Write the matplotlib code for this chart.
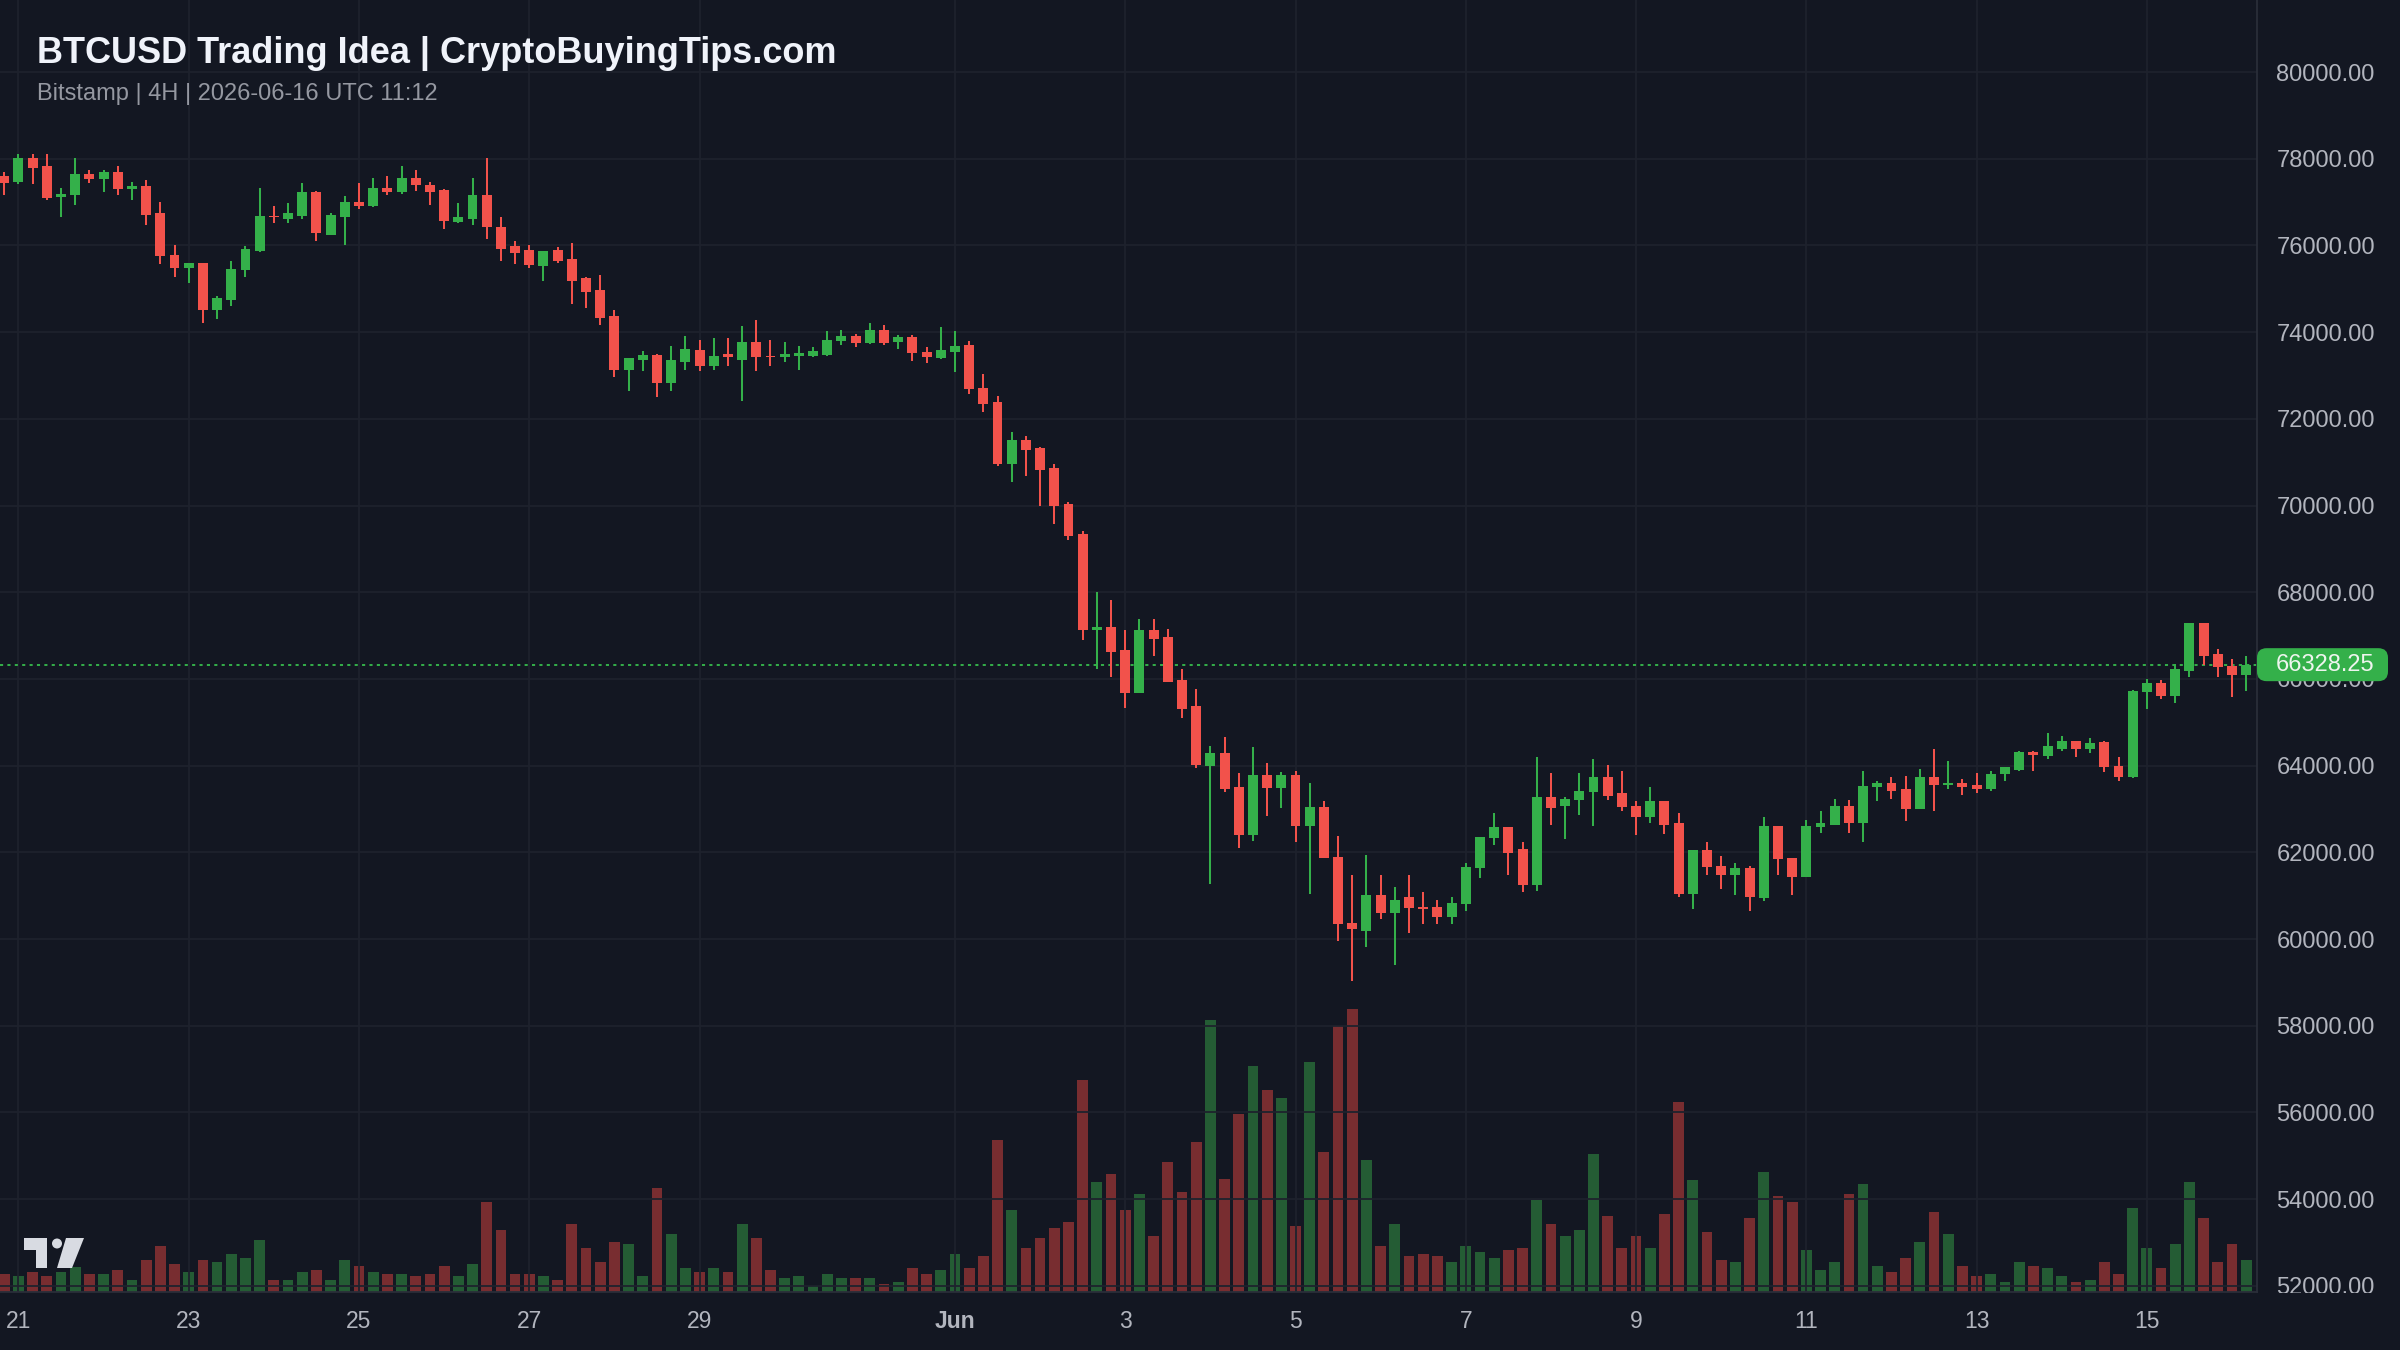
import numpy as np
import pandas as pd
import matplotlib
matplotlib.use("Agg")
import matplotlib.pyplot as plt
import matplotlib.transforms as mtransforms
from matplotlib.patches import Rectangle, Polygon, Circle, FancyBboxPatch
from matplotlib.ticker import FormatStrFormatter

# 4H candles, Bitstamp BTCUSD, first candle 2026-05-20 20:00 UTC
start = pd.Timestamp("2026-05-20 20:00")

open_ = [77597, 77468, 78015, 77833, 77118, 77156, 77650, 77521, 77703, 77293,
         77377, 76738, 75781, 75469, 75598, 74519, 74747, 75431, 75872, 76685,
         76609, 76685, 77240, 76244, 76662, 77012, 76898, 77331, 77240, 77559,
         77384, 77285, 76533, 76609, 77156, 76419, 75978, 75887, 75522, 75887,
         75689, 75241, 74960, 74367, 73136, 73364, 73470, 72824, 73318, 73592,
         73227, 73493, 73364, 73775, 73455, 73417, 73455, 73440, 73475, 73799,
         73900, 73738, 74054, 73761, 73877, 73552, 73413, 73552, 73699, 72719,
         72394, 70959, 71507, 71329, 70866, 70032, 69345, 67122, 67199, 66659,
         65678, 67122, 66967, 65964, 65370, 63992, 64301, 63506, 62402, 63792,
         63483, 63792, 62603, 63043, 61885, 60364, 60187, 61013, 60611, 60959,
         60727, 60727, 60518, 60804, 61630, 62325, 62580, 62078, 61244, 63274,
         63066, 63197, 63390, 63738, 63360, 63074, 62804, 63174, 62665, 61044,
         62055, 61684, 61476, 61646, 60951, 62611, 61877, 61430, 62588, 62634,
         63074, 62665, 63514, 63591, 63460, 62997, 63730, 63553, 63591, 63553,
         63460, 63807, 63901, 64309, 64232, 64386, 64563, 64386, 64540, 64001,
         63732, 65693, 65901, 65616, 66177, 67285, 66577, 66308, 66100]
high = [77688, 78114, 78114, 78114, 77331, 78015, 77734, 77734, 77833, 77468,
        77513, 77004, 76001, 75600, 75600, 74823, 75644, 75978, 77331, 76913,
        76974, 77430, 77260, 76738, 77141, 77430, 77559, 77612, 77833, 77734,
        77468, 77290, 76974, 77559, 78015, 76647, 76100, 76001, 75880, 75963,
        76054, 75279, 75317, 74504, 73410, 73554, 73493, 73683, 73911, 73820,
        73873, 73873, 74139, 74276, 73820, 73775, 73683, 73645, 74016, 74054,
        73954, 74209, 74155, 73931, 73931, 73645, 74108, 74031, 73784, 73043,
        72526, 71700, 71599, 71340, 70959, 70079, 69422, 67994, 67817, 67122,
        67392, 67392, 67160, 66234, 65771, 64456, 64664, 63838, 64432, 64070,
        63853, 63869, 63606, 63174, 62387, 61476, 61939, 61476, 61190, 61476,
        61090, 60905, 60959, 61754, 62360, 62912, 62590, 62248, 64201, 63838,
        63274, 63838, 64162, 64008, 63869, 63174, 63499, 63180, 62896, 62060,
        62248, 61916, 61746, 61684, 62804, 62615, 61880, 62742, 62943, 63228,
        63205, 63869, 63638, 63730, 63769, 63923, 64386, 64101, 63692, 63823,
        63869, 63965, 64347, 64347, 64747, 64693, 64570, 64640, 64578, 64193,
        65747, 66001, 65977, 66347, 67290, 67290, 66693, 66462, 66539]
low = [77156, 77422, 77422, 77057, 76647, 76928, 77430, 77240, 77156, 77057,
       76465, 75560, 75279, 75142, 74200, 74291, 74595, 75279, 75849, 76510,
       76510, 76609, 76100, 76230, 76016, 76837, 76875, 77156, 77194, 77255,
       76928, 76381, 76510, 76472, 76153, 75644, 75560, 75469, 75188, 75598,
       74648, 74557, 74154, 72961, 72634, 73098, 72505, 72634, 73136, 73098,
       73136, 73227, 72406, 73098, 73227, 73318, 73136, 73417, 73452, 73699,
       73645, 73735, 73699, 73606, 73336, 73290, 73375, 73089, 72580, 72163,
       70904, 70542, 70688, 69994, 69569, 69206, 66890, 66234, 66041, 65323,
       65670, 66527, 65920, 65100, 63950, 61267, 63390, 62093, 62271, 62834,
       63020, 62232, 61036, 61860, 59955, 59029, 59824, 60457, 59391, 60148,
       60341, 60341, 60341, 60650, 61399, 62170, 61476, 61074, 61113, 62634,
       62309, 62865, 62603, 63197, 62943, 62402, 62665, 62433, 60966, 60681,
       61476, 61144, 61013, 60642, 60874, 61476, 61013, 61425, 62456, 62630,
       62456, 62248, 63174, 63228, 62711, 62990, 62943, 63460, 63329, 63360,
       63406, 63653, 63870, 63870, 64155, 64347, 64209, 64286, 63847, 63655,
       63725, 65308, 65539, 65439, 66039, 66331, 66054, 65578, 65731]
close = [77430, 78015, 77787, 77088, 77194, 77650, 77521, 77696, 77293, 77377,
         76700, 75750, 75469, 75590, 74519, 74785, 75454, 75925, 76685, 76647,
         76738, 77240, 76283, 76700, 77012, 76913, 77331, 77240, 77559, 77384,
         77240, 76571, 76647, 77156, 76419, 75925, 75827, 75545, 75872, 75636,
         75188, 74922, 74329, 73136, 73402, 73478, 72824, 73364, 73607, 73227,
         73455, 73417, 73775, 73417, 73417, 73493, 73508, 73554, 73823, 73915,
         73738, 74054, 73738, 73877, 73529, 73429, 73591, 73684, 72680, 72348,
         70959, 71507, 71291, 70827, 69994, 69299, 67122, 67199, 66620, 65678,
         67122, 66929, 65925, 65307, 64008, 64301, 63467, 62402, 63792, 63483,
         63792, 62603, 63043, 61862, 60341, 60241, 61013, 60611, 60905, 60704,
         60700, 60518, 60827, 61653, 62348, 62580, 61985, 61244, 63274, 63020,
         63236, 63421, 63738, 63290, 63035, 62804, 63174, 62634, 61044, 62055,
         61661, 61476, 61646, 60966, 62611, 61839, 61430, 62611, 62665, 63074,
         62665, 63537, 63591, 63406, 62997, 63730, 63560, 63591, 63514, 63460,
         63807, 63962, 64309, 64255, 64463, 64563, 64386, 64516, 63978, 63732,
         65716, 65901, 65616, 66231, 67285, 66539, 66285, 66100, 66328.25]
volume = [53, 47, 59, 47, 59, 75, 53, 53, 65, 35, 95, 137, 83, 59, 95, 89, 113, 101,
          155, 35, 35, 59, 65, 35, 95, 77, 59, 53, 53, 47, 53, 77, 47, 83, 269, 185,
          53, 53, 47, 35, 203, 131, 89, 149, 143, 47, 311, 173, 71, 59, 71, 59, 203,
          161, 65, 41, 47, 17, 53, 41, 41, 41, 23, 29, 71, 53, 65, 113, 71, 107, 455,
          245, 131, 161, 191, 209, 635, 329, 353, 245, 293, 167, 389, 299, 449, 815,
          340, 533, 677, 605, 582, 197, 689, 419, 797, 850, 395, 137, 203, 107, 113,
          107, 89, 137, 119, 101, 125, 131, 275, 203, 167, 185, 413, 227, 131, 167,
          131, 233, 569, 335, 179, 95, 89, 221, 359, 287, 269, 125, 65, 89, 293, 323,
          77, 59, 101, 149, 239, 173, 77, 47, 53, 29, 89, 77, 71, 47, 29, 35, 89, 53,
          251, 131, 71, 143, 329, 221, 89, 143, 95]

tick_days = ["2026-05-21", "2026-05-23", "2026-05-25", "2026-05-27", "2026-05-29",
             "2026-06-01", "2026-06-03", "2026-06-05", "2026-06-07", "2026-06-09",
             "2026-06-11", "2026-06-13", "2026-06-15"]
tick_text = ["21", "23", "25", "27", "29", "Jun", "3", "5", "7", "9", "11", "13", "15"]
price_ticks = np.arange(52000, 80001, 2000)

bg = "#131722"
up = "#34b04a"
down = "#f2524b"
vol_up = "#245c34"
vol_down = "#782d30"
grid_c = "#1e222d"
text_c = "#b2b5be"

o = np.array(open_, float)
h = np.array(high, float)
l = np.array(low, float)
c = np.array(close, float)
v = np.array(volume, float)
x = np.arange(len(c))
rising = c >= o
cols = np.where(rising, up, down)
vcols = np.where(rising, vol_up, vol_down)

W, H = 2400, 1350
fig = plt.figure(figsize=(24, 13.5), dpi=100, facecolor=bg)
ax = fig.add_axes([0, 58 / H, 2257 / W, 1292 / H])
vax = ax.twinx()
ax.set_zorder(2)
vax.set_zorder(1)
ax.patch.set_visible(False)
vax.patch.set_facecolor(bg)

# volume (overlay, bottom of pane)
vax.bar(x, v, width=0.76, color=vcols, linewidth=0)
vax.set_ylim(0, 3876)
vax.yaxis.set_visible(False)
for s in vax.spines.values():
    s.set_visible(False)

# candles
ax.vlines(x, l, h, colors=cols, linewidth=1.45, zorder=3)
body = np.maximum(np.abs(c - o), 28)
ax.bar(x, body, bottom=np.minimum(o, c), width=0.7, color=cols, linewidth=0, zorder=4)

ax.set_xlim(-0.3, 158.76)
ax.set_ylim(51857, 81661)

# last price line
last = c[-1]
ax.axhline(last, color=up, linewidth=1.4, linestyle=(0, (1.6, 2.2)), zorder=2)

tick_x = [(pd.Timestamp(d) - start) / pd.Timedelta(hours=4) for d in tick_days]

ax.set_xticks(tick_x)
ax.set_yticks(price_ticks)
ax.grid(True, color=grid_c, linewidth=1.3, zorder=0)
ax.tick_params(axis="x", bottom=False, labelbottom=False, length=0)
ax.yaxis.tick_right()
ax.yaxis.set_major_formatter(FormatStrFormatter("%.2f"))
ax.tick_params(axis="y", length=0, pad=14, labelsize=17, labelcolor=text_c)
for lab in ax.get_yticklabels():
    lab.set_fontfamily("Liberation Sans")
for side in ["top", "left", "bottom"]:
    ax.spines[side].set_visible(False)
ax.spines["right"].set_color("#2a2e39")
ax.spines["right"].set_linewidth(1.3)

# cover for the date strip (hides lower half of the 52000 label like the original)
fig.add_artist(Rectangle((0, 0), 1, 57.5 / H, transform=fig.transFigure,
                         facecolor=bg, edgecolor="none", zorder=3))
fig.add_artist(plt.Line2D([0, 2257 / W], [58 / H, 58 / H], transform=fig.transFigure,
                          color="#2a2e39", linewidth=1.3, zorder=3.5))

strip = fig.add_axes([0, 0, 2257 / W, 58 / H], sharex=ax)
strip.set_zorder(4)
strip.patch.set_visible(False)
strip.set_ylim(0, 1)
strip.tick_params(axis="both", bottom=False, left=False, labelbottom=False, labelleft=False)
for s in strip.spines.values():
    s.set_visible(False)
for tx, tt in zip(tick_x, tick_text):
    strip.text(tx, 0.5, tt, ha="center", va="center", fontsize=16.5, color=text_c,
               fontfamily="Liberation Sans", fontweight="bold" if tt == "Jun" else "normal")

# last price tag
y_disp = ax.transData.transform((0, last))[1]
y_fig = y_disp / H
tag_h = 33 / H
fig.add_artist(FancyBboxPatch((2257 / W, y_fig - tag_h / 2), 131 / W, tag_h,
                              boxstyle="round,pad=0,rounding_size=0.004",
                              transform=fig.transFigure, facecolor=up, edgecolor="none",
                              zorder=5, mutation_aspect=W / H))
fig.text(2276 / W, y_fig, f"{last:.2f}", ha="left", va="center", fontsize=17,
         color="#eef5ee", fontfamily="Liberation Sans", zorder=6)

# title
fig.text(37 / W, 1 - 63 / H, "BTCUSD Trading Idea | CryptoBuyingTips.com", ha="left",
         va="baseline", fontsize=26, fontweight="bold", color="#f0f3fa",
         fontfamily="Liberation Sans", zorder=6)
fig.text(37 / W, 1 - 100 / H, "Bitstamp | 4H | 2026-06-16 UTC 11:12", ha="left",
         va="baseline", fontsize=17, color="#9598a1", fontfamily="Liberation Sans", zorder=6)

# TradingView logo
px = mtransforms.Affine2D().scale(1 / W, 1 / H) + fig.transFigure
logo_c = "#d8dbe2"
fig.add_artist(Polygon([(24, H - 1238), (47, H - 1238), (47, H - 1268), (36, H - 1268),
                        (36, H - 1250), (24, H - 1250)], closed=True, transform=px,
                       facecolor=logo_c, edgecolor="none", zorder=6))
fig.add_artist(Circle((57, H - 1243.5), 5, transform=px, facecolor=logo_c,
                      edgecolor="none", zorder=6))
fig.add_artist(Polygon([(66, H - 1238), (84, H - 1238), (72, H - 1268), (57, H - 1268)],
                       closed=True, transform=px, facecolor=logo_c, edgecolor="none", zorder=6))

fig.savefig("out.png", dpi=100, facecolor=bg)
